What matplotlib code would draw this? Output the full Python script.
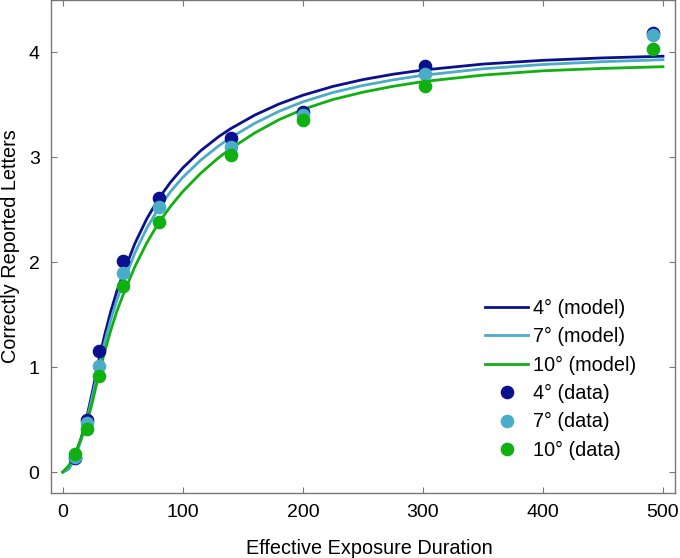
import numpy as np
import matplotlib
matplotlib.use("Agg")
import matplotlib.pyplot as plt

plt.rcParams["font.family"] = ["Liberation Sans", "DejaVu Sans"]

# data points
exposure = [10, 20, 30, 50, 80, 140, 200, 302, 492]
data_4 = [0.13, 0.50, 1.155, 2.01, 2.61, 3.18, 3.43, 3.87, 4.19]
data_7 = [0.14, 0.47, 1.015, 1.895, 2.53, 3.10, 3.40, 3.79, 4.17]
data_10 = [0.174, 0.41, 0.917, 1.777, 2.387, 3.025, 3.355, 3.68, 4.03]

# model curves
model_x = [0, 5, 10, 15, 20, 25, 30, 35, 40, 45, 50, 60, 70, 80, 90, 100,
           115, 130, 140, 160, 180, 200, 225, 250, 275, 300, 350, 400, 450, 500]
model_4 = [0.0, 0.03, 0.14, 0.31, 0.52, 0.78, 1.06, 1.31, 1.53, 1.72, 1.88,
           2.176, 2.414, 2.608, 2.766, 2.899, 3.064, 3.198, 3.274, 3.403,
           3.508, 3.592, 3.676, 3.741, 3.792, 3.832, 3.889, 3.925, 3.948, 3.964]
model_7 = [0.0, 0.03, 0.13, 0.295, 0.49, 0.735, 1.00, 1.24, 1.45, 1.635, 1.79,
           2.086, 2.324, 2.518, 2.676, 2.809, 2.974, 3.110, 3.189, 3.325,
           3.438, 3.529, 3.618, 3.685, 3.738, 3.782, 3.844, 3.885, 3.912, 3.931]
model_10 = [0.0, 0.06, 0.17, 0.31, 0.46, 0.68, 0.93, 1.15, 1.35, 1.53, 1.68,
            1.956, 2.184, 2.378, 2.536, 2.674, 2.849, 2.998, 3.084, 3.233,
            3.358, 3.457, 3.551, 3.621, 3.677, 3.722, 3.784, 3.825, 3.848, 3.864]

c4 = "#0a108e"
c7 = "#4bacc8"
c10 = "#10b010"

fig = plt.figure(figsize=(6.8, 5.58), dpi=100)
ax = fig.add_axes([0.0746, 0.1165, 0.918, 0.8835])

ax.plot(model_x, model_4, color=c4, lw=2.0, label="4° (model)")
ax.plot(model_x, model_7, color=c7, lw=2.0, label="7° (model)")
ax.plot(model_x, model_10, color=c10, lw=2.0, label="10° (model)")

ax.plot(exposure, data_4, "o", color=c4, ms=8.8, label="4° (data)")
ax.plot(exposure, data_7, "o", color=c7, ms=8.8, label="7° (data)")
ax.plot(exposure, data_10, "o", color=c10, ms=8.8, label="10° (data)")

ax.set_xlim(-10, 510)
ax.set_ylim(-0.2, 4.5)
ax.set_xticks([0, 100, 200, 300, 400, 500])
ax.set_yticks([0, 1, 2, 3, 4])

ax.tick_params(direction="in", top=True, right=True, length=4.5,
               color="#777777", labelsize=14, pad=8)
for s in ax.spines.values():
    s.set_color("#777777")
    s.set_linewidth(1.0)

ax.set_xlabel("Effective Exposure Duration", fontsize=14.3)
ax.xaxis.set_label_coords(0.511, -0.094)
ax.set_ylabel("Correctly Reported Letters", fontsize=14.3, labelpad=6)

ax.legend(loc="upper left", bbox_to_anchor=(0.68, 0.414), frameon=False,
          fontsize=14.3, handlelength=2.16, handletextpad=0.24,
          labelspacing=0.47, borderpad=0, numpoints=1)

fig.savefig("out.png", dpi=100)
